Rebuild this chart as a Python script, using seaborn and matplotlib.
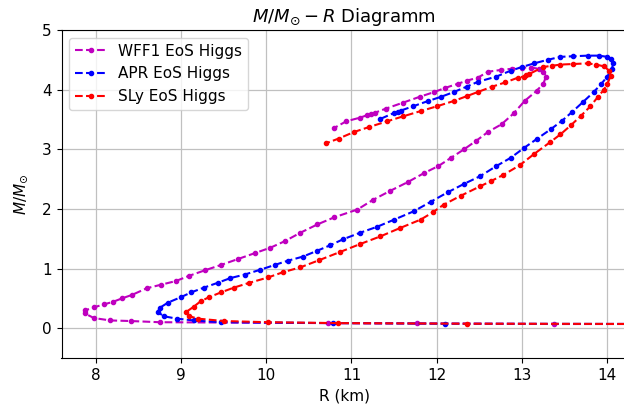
import matplotlib
matplotlib.use("Agg")
import matplotlib.pyplot as plt
import seaborn as sns

# ---- data (R in km, M in solar masses) ----
wff1_R = [14.6, 13.37, 11.77, 10.73, 8.75, 8.41, 8.17, 7.98, 7.87,
          7.88, 7.98, 8.1, 8.2, 8.31, 8.43, 8.6, 8.77, 8.94, 9.1, 9.28, 9.47,
          9.67, 9.87, 10.05, 10.22, 10.4, 10.6, 10.8, 11.07, 11.25, 11.45,
          11.66, 11.85, 12.02, 12.17, 12.32, 12.46, 12.6, 12.76, 12.9, 13.03,
          13.17, 13.25, 13.28, 13.25, 13.2, 13.1, 13.0, 12.88, 12.75, 12.6,
          12.48, 12.35, 12.25, 12.1, 11.97, 11.8, 11.6, 11.4, 11.27, 11.23,
          11.18, 11.1, 10.94, 10.8]
wff1_M = [0.07, 0.07, 0.08, 0.085, 0.1, 0.12, 0.13, 0.17, 0.25,
          0.3, 0.35, 0.4, 0.44, 0.5, 0.56, 0.67, 0.73, 0.79, 0.88, 0.97, 1.06,
          1.16, 1.26, 1.35, 1.46, 1.6, 1.74, 1.86, 1.99, 2.15, 2.3,
          2.45, 2.6, 2.72, 2.86, 3.0, 3.14, 3.29, 3.42, 3.6, 3.81,
          3.98, 4.1, 4.22, 4.3, 4.35, 4.37, 4.37, 4.35, 4.33, 4.3,
          4.2, 4.15, 4.1, 4.03, 3.96, 3.88, 3.78, 3.68, 3.61, 3.59,
          3.57, 3.53, 3.47, 3.36]

apr_R = [14.6, 12.1, 10.78, 9.47, 9.15, 8.95, 8.8, 8.73,
         8.75, 8.85, 9.0, 9.12, 9.27, 9.43, 9.58, 9.75, 9.93, 10.1, 10.25,
         10.43, 10.6, 10.75, 10.9, 11.1, 11.3, 11.5, 11.73, 11.93, 12.13,
         12.32, 12.51, 12.7, 12.87, 13.02, 13.18, 13.34, 13.47, 13.59, 13.72,
         13.84, 13.93, 14.0, 14.05, 14.07, 14.04, 14.0, 13.9, 13.77, 13.6,
         13.45, 13.3, 13.14, 13.0, 12.87, 12.7, 12.48, 12.35, 12.2, 12.05,
         11.9, 11.72, 11.58, 11.54, 11.5, 11.34]
apr_M = [0.07, 0.075, 0.085, 0.1, 0.13, 0.16, 0.2, 0.27,
         0.34, 0.43, 0.52, 0.6, 0.68, 0.76, 0.84, 0.9, 0.98, 1.06, 1.13,
         1.2, 1.3, 1.39, 1.49, 1.6, 1.7, 1.82, 1.96, 2.12, 2.28,
         2.42, 2.55, 2.72, 2.86, 3.02, 3.18, 3.34, 3.48, 3.63, 3.8,
         3.96, 4.1, 4.22, 4.34, 4.44, 4.51, 4.55, 4.57, 4.57, 4.56,
         4.55, 4.5, 4.44, 4.38, 4.32, 4.22, 4.13, 4.05, 3.96, 3.88,
         3.81, 3.72, 3.65, 3.63, 3.61, 3.51]

sly_R = [14.6, 12.35, 10.84, 10.02, 9.5, 9.2, 9.1, 9.06,
         9.15, 9.23, 9.33, 9.47, 9.62, 9.8, 10.02, 10.2, 10.4, 10.62, 10.87,
         11.1, 11.34, 11.57, 11.81, 11.95, 12.08, 12.28, 12.51, 12.64, 12.78,
         12.97, 13.14, 13.33, 13.45, 13.57, 13.69, 13.8, 13.89, 13.96, 14.0,
         14.04, 14.02, 13.96, 13.87, 13.77, 13.6, 13.45, 13.35, 13.25, 13.08,
         13.05, 13.02, 12.95, 12.8, 12.65, 12.48, 12.35, 12.2, 12.0, 11.81,
         11.6, 11.42, 11.2, 11.03, 10.85, 10.7]
sly_M = [0.07, 0.075, 0.085, 0.1, 0.12, 0.16, 0.2, 0.27,
         0.36, 0.45, 0.52, 0.6, 0.68, 0.76, 0.85, 0.94, 1.02, 1.14, 1.28,
         1.41, 1.54, 1.68, 1.82, 1.94, 2.07, 2.22, 2.38, 2.47, 2.57,
         2.73, 2.92, 3.12, 3.25, 3.4, 3.56, 3.72, 3.88, 4.0, 4.1,
         4.23, 4.32, 4.39, 4.42, 4.44, 4.43, 4.42, 4.4, 4.38, 4.26,
         4.24, 4.22, 4.2, 4.12, 4.05, 3.96, 3.89, 3.81, 3.72, 3.64,
         3.55, 3.47, 3.37, 3.29, 3.18, 3.1]

labels = ["WFF1 EoS Higgs", "APR EoS Higgs", "SLy EoS Higgs"]
colors = ["m", "b", "r"]
series = [(wff1_R, wff1_M), (apr_R, apr_M), (sly_R, sly_M)]

x_ticks = [8, 9, 10, 11, 12, 13, 14]
y_ticks = [0, 1, 2, 3, 4, 5]

plt.rcParams["font.size"] = 11

fig = plt.figure(figsize=(6.24, 4.09), dpi=100)
ax = fig.add_axes([61.5 / 624, 1 - 358 / 409, (627 - 61.5) / 624, (358 - 30) / 409])

for (R, M), lab, col in zip(series, labels, colors):
    sns.lineplot(x=R, y=M, sort=False, estimator=None, ax=ax, color=col,
                 linestyle="--", linewidth=1.5, marker=".", markersize=6,
                 markeredgecolor=col, markerfacecolor=col, markeredgewidth=1.0,
                 label=lab)

ax.set_xlim(7.6, 14.23)
ax.set_ylim(-0.5, 5)
ax.set_xticks(x_ticks)
ax.set_yticks(y_ticks)
ax.tick_params(labelsize=11)
ax.grid(True, color="#c0c0c0", linewidth=0.9)
ax.set_axisbelow(True)
ax.set_title(r"$M/M_{\odot} - R$ Diagramm", fontsize=13)
ax.set_xlabel("R (km)", fontsize=11)
ax.set_ylabel(r"$M/M_{\odot}$", fontsize=11, labelpad=9)
ax.legend(loc="upper left", fontsize=11)

fig.savefig("out.png", dpi=100)
